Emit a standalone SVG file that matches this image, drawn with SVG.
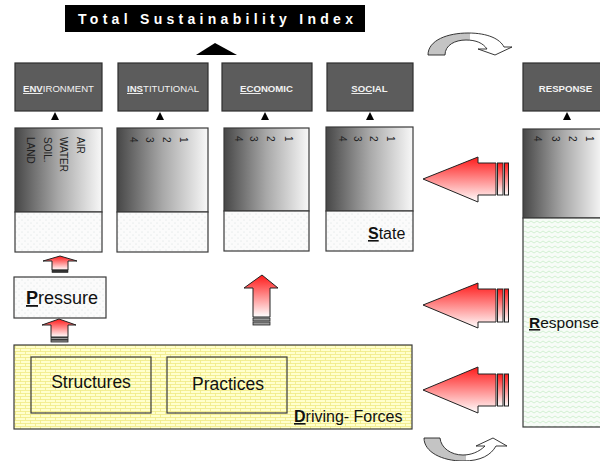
<svg xmlns="http://www.w3.org/2000/svg" width="600" height="461" viewBox="0 0 600 461">
<style>
.hdr{fill:#5c5c5c;stroke:#2e2e2e;stroke-width:1.2}
.hl{font-family:"Liberation Sans",Arial,sans-serif;font-size:9.6px;fill:#f2f2f2}
.b{font-weight:bold}
.col{fill:url(#colGrad);stroke:#3a3a3a;stroke-width:1.2}
.dot{fill:url(#dots);stroke:#3a3a3a;stroke-width:1.2}
.vt{font-family:"Liberation Sans",Arial,sans-serif;font-size:10px;fill:#222}
.lbl{font-family:"Liberation Sans",Arial,sans-serif;fill:#111}
.tri{fill:#000}
.red{fill:url(#redV);stroke:#222;stroke-width:1}
.bar{fill:url(#redV);stroke:#222;stroke-width:1}
.gbar{fill:#9a9a9a;stroke:#222;stroke-width:0.8}
.box{fill:none;stroke:#3a3a3a;stroke-width:1.2}
</style>
<defs>
<linearGradient id="colGrad" x1="0" y1="0" x2="1" y2="0">
<stop offset="0" stop-color="#474747"/>
<stop offset="0.5" stop-color="#a8a8a8"/>
<stop offset="1" stop-color="#f8f8f8"/>
</linearGradient>
<linearGradient id="redV" x1="0" y1="0" x2="0" y2="1">
<stop offset="0" stop-color="#ff1a1a"/>
<stop offset="1" stop-color="#ffffff"/>
</linearGradient>
<linearGradient id="curveTop" gradientUnits="userSpaceOnUse" x1="428" y1="0" x2="512" y2="0">
<stop offset="0.5" stop-color="#c4c4c4"/>
<stop offset="0.5" stop-color="#ffffff"/>
</linearGradient>
<linearGradient id="curveBot" gradientUnits="userSpaceOnUse" x1="424" y1="0" x2="507" y2="0">
<stop offset="0.5" stop-color="#c4c4c4"/>
<stop offset="0.5" stop-color="#ffffff"/>
</linearGradient>
<pattern id="dots" width="6" height="6" patternUnits="userSpaceOnUse">
<rect width="6" height="6" fill="#fbfbfb"/>
<circle cx="1" cy="1" r="0.45" fill="#b4c4c4"/>
<circle cx="4" cy="4" r="0.45" fill="#b4c4c4"/>
</pattern>
<pattern id="green" width="6" height="5" patternUnits="userSpaceOnUse">
<rect width="6" height="5" fill="#f7fcf7"/>
<path d="M0,3 L3,1 L6,3" fill="none" stroke="#c8ecc8" stroke-width="0.8"/>
</pattern>
<pattern id="brick" width="10" height="6" patternUnits="userSpaceOnUse">
<rect width="10" height="6" fill="#ffffcc"/>
<path d="M0,0.5 H10 M0,3.5 H10 M0.5,0.5 V3.5 M5.5,3.5 V6.5" fill="none" stroke="#eee67a" stroke-width="0.7"/>
</pattern>
</defs>

<g id="title">
<rect x="65" y="5" width="300" height="27" fill="#000"/>
<text x="78" y="24" font-family="Liberation Sans,Arial,sans-serif" font-weight="bold" font-size="14" fill="#fff" textLength="275" lengthAdjust="spacing">Total Sustainability Index</text>
<polygon class="tri" points="196,55 215,43 237,55"/>
</g>

<g id="environment">
<rect class="hdr" x="15" y="63" width="87" height="48"/>
<text class="hl" x="58.5" y="92" text-anchor="middle"><tspan class="b" text-decoration="underline">ENV</tspan>IRONMENT</text>
<polygon class="tri" points="51,120 55,112 59,120"/>
<rect class="col" x="15" y="128" width="87" height="84"/>
<rect class="dot" x="15" y="212" width="87" height="40"/>
<text class="vt" transform="translate(76.5,137) rotate(90)">AIR</text>
<text class="vt" transform="translate(59.5,137) rotate(90)">WATER</text>
<text class="vt" transform="translate(43.5,137) rotate(90)">SOIL.</text>
<text class="vt" transform="translate(26.5,137) rotate(90)">LAND</text>
</g>

<g id="institutional">
<rect class="hdr" x="118" y="63" width="90" height="48"/>
<text class="hl" x="163" y="92" text-anchor="middle"><tspan class="b" text-decoration="underline">INS</tspan>TITUTIONAL</text>
<polygon class="tri" points="156,120 160,112 164,120"/>
<rect class="col" x="117" y="128" width="91" height="84"/>
<rect class="dot" x="117" y="212" width="91" height="40"/>
<text class="vt" transform="translate(179.5,137) rotate(90)">1</text>
<text class="vt" transform="translate(162.5,137) rotate(90)">2</text>
<text class="vt" transform="translate(145.5,137) rotate(90)">3</text>
<text class="vt" transform="translate(129.5,137) rotate(90)">4</text>
</g>

<g id="economic">
<rect class="hdr" x="222" y="63" width="90" height="48"/>
<text class="hl b" x="266.5" y="92" text-anchor="middle"><tspan text-decoration="underline">ECO</tspan>NOMIC</text>
<polygon class="tri" points="261,120 265,112 269,120"/>
<rect class="col" x="224" y="128" width="85" height="83"/>
<rect class="dot" x="224" y="211" width="85" height="40"/>
<text class="vt" transform="translate(284.5,136) rotate(90)">1</text>
<text class="vt" transform="translate(266.5,136) rotate(90)">2</text>
<text class="vt" transform="translate(249.5,136) rotate(90)">3</text>
<text class="vt" transform="translate(234.5,136) rotate(90)">4</text>
</g>

<g id="social">
<rect class="hdr" x="327" y="63" width="86" height="48"/>
<text class="hl b" x="369.5" y="92" text-anchor="middle"><tspan text-decoration="underline">SOC</tspan>IAL</text>
<polygon class="tri" points="366,120 370,112 374,120"/>
<rect class="col" x="326" y="127" width="87" height="84"/>
<rect class="dot" x="326" y="211" width="87" height="40"/>
<text class="vt" transform="translate(386.5,136) rotate(90)">1</text>
<text class="vt" transform="translate(369.5,136) rotate(90)">2</text>
<text class="vt" transform="translate(353.5,136) rotate(90)">3</text>
<text class="vt" transform="translate(338.5,136) rotate(90)">4</text>
<text class="lbl" x="368" y="239" font-size="16"><tspan font-weight="bold" text-decoration="underline">S</tspan>tate</text>
</g>

<g id="response">
<rect class="hdr" x="523" y="63" width="80" height="48"/>
<text class="hl b" x="565.5" y="92" text-anchor="middle">RESPONSE</text>
<polygon class="tri" points="563,120 567,112 571,120"/>
<rect class="col" x="523" y="129" width="80" height="89"/>
<rect x="523" y="218" width="80" height="209" fill="url(#green)" stroke="#3a3a3a" stroke-width="1.2"/>
<text class="vt" transform="translate(585.5,136) rotate(90)">1</text>
<text class="vt" transform="translate(568.5,136) rotate(90)">2</text>
<text class="vt" transform="translate(551.5,136) rotate(90)">3</text>
<text class="vt" transform="translate(533.5,136) rotate(90)">4</text>
<text class="lbl" x="529" y="328" font-size="15.5"><tspan font-weight="bold" text-decoration="underline">R</tspan>esponse</text>
</g>

<g id="pressure">
<rect x="14" y="277" width="92" height="41" fill="url(#dots)" stroke="#3a3a3a" stroke-width="1.2"/>
<text class="lbl" x="26" y="304" font-size="18"><tspan font-weight="bold" text-decoration="underline">P</tspan>ressure</text>
</g>

<g id="driving-forces">
<rect x="14" y="345" width="398" height="84" fill="url(#brick)" stroke="#3a3a3a" stroke-width="1.2"/>
<text class="lbl" x="294" y="422" font-size="16"><tspan font-weight="bold" text-decoration="underline">D</tspan>riving- Forces</text>
</g>

<g id="structures">
<rect class="box" x="31" y="357" width="120" height="56"/>
<text class="lbl" x="91" y="388" font-size="17.5" text-anchor="middle">Structures</text>
</g>

<g id="practices">
<rect class="box" x="167" y="357" width="120" height="56"/>
<text class="lbl" x="228" y="390" font-size="17.5" text-anchor="middle">Practices</text>
</g>

<g id="connectors">
<!-- small up arrow: state to pressure -->
<polygon class="red" points="60,256 77,261 68,261 68,270 52,270 52,261 43,261"/>
<rect x="52" y="270" width="16" height="2.5" fill="#333" stroke="#222" stroke-width="0.6"/>
<!-- small up arrow: driving forces to pressure -->
<polygon class="red" points="59,319 76,325 68,325 68,337 51,337 51,325 42,325"/>
<rect class="gbar" x="51" y="337.5" width="17" height="2"/>
<rect class="gbar" x="51" y="340" width="17" height="2"/>
<!-- big up arrow -->
<polygon class="red" points="262,275 278,288 270,288 270,317 253,317 253,288 244,288"/>
<rect class="gbar" x="253" y="318" width="17" height="3"/>
<rect class="gbar" x="253" y="322" width="17" height="3"/>
<!-- left arrows from response -->
<polygon class="red" points="423,179 478,157 478,163 496,163 496,195 478,195 478,202"/>
<rect class="bar" x="497.5" y="163" width="5.5" height="32"/>
<rect class="bar" x="504.5" y="163" width="4" height="32"/>
<polygon class="red" points="423,305 478,283 478,289 496,289 496,322 478,322 478,328"/>
<rect class="bar" x="497.5" y="289" width="5.5" height="33"/>
<rect class="bar" x="504.5" y="289" width="4" height="33"/>
<polygon class="red" points="423,390 478,367 478,374 496,374 496,406 478,406 478,413"/>
<rect class="bar" x="497.5" y="374" width="5.5" height="32"/>
<rect class="bar" x="504.5" y="374" width="4" height="32"/>
<!-- curved arrows -->
<path d="M428,55 C428,40 448,33 468,33 C488,33 500,39 504,47 L512,47 L495,55 L478,49 L487,49 C483,43 476,40 466,40 C455,40 445,45 445,55 Z" fill="url(#curveTop)" stroke="#222" stroke-width="0.9"/>
<path d="M424,438 C424,452 442,461 463,461 C481,461 491,455 496,446 L507,446 L493,438 L476,446 L485,446 C479,452 471,455 463,455 C451,455 441,448 440,438 Z" fill="url(#curveBot)" stroke="#222" stroke-width="0.9"/>
</g>
</svg>
